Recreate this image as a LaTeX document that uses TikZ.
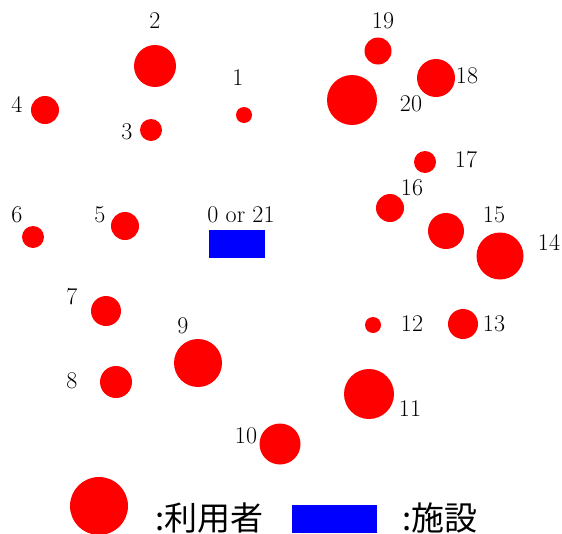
\documentclass[tikz,border=0pt]{standalone}
\usepackage{fontspec}
\newfontfamily\jpfont{Noto Sans CJK JP}
\begin{document}
\begin{tikzpicture}[
	x=1pt, y=-1pt,
	utente/.style={circle, fill=red, inner sep=0pt},
	sito/.style={rectangle, fill=blue, inner sep=0pt},
	lab/.style={font=\fontsize{24}{28}\selectfont, inner sep=0pt},
	labj/.style={font=\jpfont\fontsize{33}{38}\selectfont, inner sep=0pt, anchor=base west},
	]
	
	% quadro dell'immagine (pixel)
	\useasboundingbox (0,0) rectangle (562,533);
	
	%%═══ utenti: numero / x / y / raggio ══════════════════════════
	\foreach \i/\x/\y/\r in {1/244/115/8, 2/155/66/21, 3/151/130/11, 4/45/110/14,
		5/125/226/14, 6/33/237/11, 7/106/311/15, 8/116/382/16, 9/198/363/24,
		10/280/444/20.5, 11/369/394/25, 12/373/325/8, 13/463/324/15,
		14/500/256/23.5, 15/446/231/18, 16/390/208/14, 17/425/162/11,
		18/436/78/19, 19/378/51/13.5, 20/352/100/25}
	\node[utente, minimum size={2*\r pt}] (u\i) at (\x,\y) {};
	
	% etichette degli utenti
	\foreach \i/\x/\y in {1/238/78, 2/155/21, 3/127/132, 4/17/104, 5/100/215,
		6/17/215, 7/72/297, 8/72/381, 9/183/326, 10/246/436, 11/410/409,
		12/412/324, 13/494/324, 14/549/242, 15/494/215, 16/412/188,
		17/466/160, 18/467/76, 19/383/21, 20/411/104}
	\node[lab] (l\i) at (\x,\y) {\i};
	
	%%═══ impianto (deposito) ══════════════════════════════════════
	\node[sito, minimum width=56pt, minimum height=28pt] (dep) at (237,244) {};
	\node[lab] (ldep) at (241,215) {0 or 21};
	
	%%═══ legenda ═══════════════════════════════════════════════════
	\node[utente, minimum size=58pt] (legu) at (99,506) {};
	\node[labj] (legut) at (155,530) {:利用者};
	\node[sito, minimum width=85pt, minimum height=28pt] (legs) at (334.5,519) {};
	\node[labj] (legst) at (402,530) {:施設};
	
\end{tikzpicture}
\end{document}
